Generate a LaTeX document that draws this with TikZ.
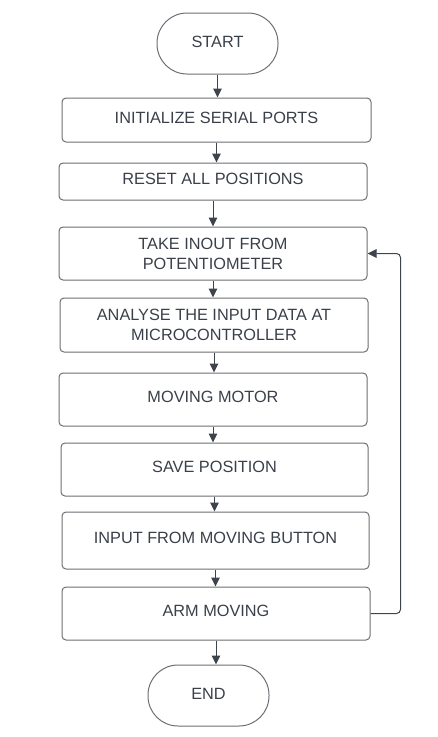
\documentclass[tikz,border=0pt]{standalone}
\usepackage{fontspec}
\setsansfont{Liberation Sans}
\usetikzlibrary{arrows.meta}
\definecolor{boxline}{HTML}{6B6F75}
\definecolor{flowline}{HTML}{3E444C}
\definecolor{labeltext}{HTML}{3A4049}
\tikzset{
  every picture/.style={line width=1pt},
  procbox/.style={draw=boxline, rounded corners=4pt, minimum width=308pt,
    minimum height=53pt, align=center, inner sep=0pt, text=labeltext,
    text depth=4.5pt, font=\sffamily\fontsize{16.3}{20}\selectfont},
  twoline/.style={text depth=0pt},
  termbox/.style={procbox, rounded corners=30pt, minimum width=121pt,
    minimum height=61pt, text depth=3pt},
  flow/.style={draw=flowline, -{Triangle[length=9pt,width=8.5pt]}}
}
\begin{document}
\begin{tikzpicture}[x=1pt,y=1pt,yscale=-1,xscale=1]
\useasboundingbox (0,0) rectangle (438,737);

% Terminals
\node [termbox] (start) at (217.5,43.5) {START};
\node [termbox] (stop) at (208.5,695.5) {END};

% Process boxes
\node [procbox, minimum width=309pt, minimum height=44pt] (init) at (216.5,120) {INITIALIZE SERIAL PORTS};
\node [procbox, minimum height=37pt] (reset) at (213,181.5) {RESET ALL POSITIONS};
\node [procbox, twoline] (take) at (213,253.5) {TAKE INOUT FROM\\POTENTIOMETER};
\node [procbox, twoline, minimum height=54pt] (analyse) at (214,325) {ANALYSE THE INPUT DATA AT\\MICROCONTROLLER};
\node [procbox] (motor) at (213,399.5) {MOVING MOTOR};
\node [procbox, minimum width=307pt] (save) at (214.5,469.5) {SAVE POSITION};
\node [procbox, minimum width=307pt, minimum height=57pt] (button) at (215.5,540.5) {INPUT FROM MOVING BUTTON};
\node [procbox] (arm) at (216,613.5) {ARM MOVING};

% Connectors
\draw [flow] (start.south) -- (start.south |- init.north);
\draw [flow] (init.south) -- (init.south |- reset.north);
\draw [flow] (reset.south) -- (reset.south |- take.north);
\draw [flow] (take.south) -- (take.south |- analyse.north);
\draw [flow] (analyse.south) -- (analyse.south |- motor.north);
\draw [flow] (motor.south) -- (motor.south |- save.north);
\draw [flow] (save.south) -- (save.south |- button.north);
\draw [flow] (button.south) -- (button.south |- arm.north);
\draw [flow] (arm.south) -- (arm.south |- stop.north);

% Feedback loop
\draw [flow, rounded corners=4pt] (arm.east) -- ++(30,0) |- (take.east);
\end{tikzpicture}
\end{document}
